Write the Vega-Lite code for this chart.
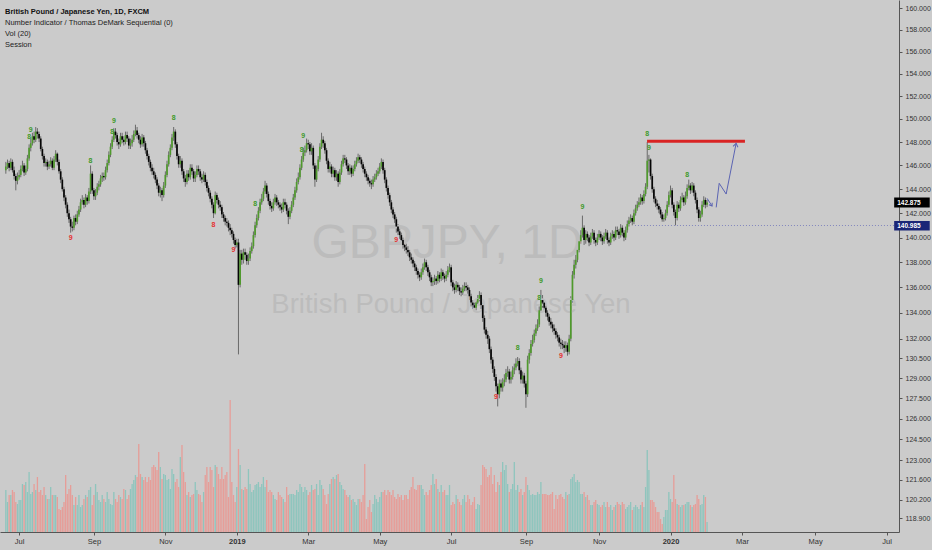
{
  "$schema": "https://vega.github.io/schema/vega-lite/v6.json",
  "description": "GBPJPY daily candles with tick volume, TD sequential counts and drawn levels",
  "width": 899,
  "height": 532,
  "autosize": {"type": "none"},
  "padding": {"left": 0, "top": 0, "right": 33, "bottom": 18},
  "background": "#cbcbcb",
  "config": {"view": {"stroke": null}, "font": "Liberation Sans"},
  "title": {
    "text": "British Pound / Japanese Yen, 1D, FXCM",
    "subtitle": ["Number Indicator / Thomas DeMark Sequential (0)", "Vol (20)", "Session"],
    "anchor": "start",
    "frame": "group",
    "orient": "top",
    "offset": -48,
    "dx": 5,
    "font": "Liberation Sans Narrow, Liberation Sans, sans-serif",
    "fontSize": 7.5,
    "fontWeight": "bold",
    "color": "#111111",
    "subtitleFont": "Liberation Sans Narrow, Liberation Sans, sans-serif",
    "subtitleFontSize": 7.5,
    "subtitleColor": "#222222",
    "subtitlePadding": 3,
    "subtitleLineHeight": 11
  },
  "datasets": {
    "candles": [
      {"i":0,"o":145.6,"h":146.3,"l":145.3,"c":145.9,"v":42},
      {"i":1,"o":145.9,"h":146.5,"l":145.7,"c":146.2,"v":30},
      {"i":2,"o":146.2,"h":146.4,"l":145.5,"c":145.8,"v":37},
      {"i":3,"o":145.8,"h":146.6,"l":145.6,"c":146.3,"v":37},
      {"i":4,"o":146.3,"h":146.5,"l":145.4,"c":145.6,"v":42},
      {"i":5,"o":145.6,"h":145.9,"l":144.8,"c":145.1,"v":40},
      {"i":6,"o":145.1,"h":145.3,"l":143.9,"c":144.7,"v":30},
      {"i":7,"o":144.7,"h":145.4,"l":144.4,"c":145.0,"v":28},
      {"i":8,"o":145.0,"h":145.6,"l":144.8,"c":145.2,"v":32},
      {"i":9,"o":145.2,"h":146.0,"l":145.0,"c":145.7,"v":32},
      {"i":10,"o":145.7,"h":146.4,"l":145.5,"c":146.0,"v":48},
      {"i":11,"o":146.0,"h":146.2,"l":145.1,"c":145.4,"v":47},
      {"i":12,"o":145.4,"h":146.0,"l":145.2,"c":145.7,"v":50},
      {"i":13,"o":145.7,"h":146.9,"l":145.5,"c":146.6,"v":40},
      {"i":14,"o":146.6,"h":147.8,"l":146.4,"c":147.5,"v":60},
      {"i":15,"o":147.5,"h":148.3,"l":147.2,"c":147.9,"v":38},
      {"i":16,"o":147.9,"h":148.8,"l":147.7,"c":148.5,"v":40},
      {"i":17,"o":148.5,"h":148.9,"l":147.9,"c":148.2,"v":48},
      {"i":18,"o":148.2,"h":149.3,"l":148.0,"c":148.9,"v":42},
      {"i":19,"o":148.9,"h":149.2,"l":148.3,"c":148.7,"v":55},
      {"i":20,"o":148.7,"h":148.9,"l":148.0,"c":148.3,"v":40},
      {"i":21,"o":148.3,"h":148.5,"l":147.2,"c":147.4,"v":42},
      {"i":22,"o":147.4,"h":147.6,"l":146.5,"c":146.8,"v":37},
      {"i":23,"o":146.8,"h":147.0,"l":145.9,"c":146.2,"v":45},
      {"i":24,"o":146.2,"h":146.6,"l":145.9,"c":146.3,"v":37},
      {"i":25,"o":146.3,"h":146.5,"l":145.6,"c":145.9,"v":33},
      {"i":26,"o":145.9,"h":146.4,"l":145.7,"c":146.1,"v":33},
      {"i":27,"o":146.1,"h":146.7,"l":145.9,"c":146.4,"v":45},
      {"i":28,"o":146.4,"h":146.6,"l":145.6,"c":145.8,"v":37},
      {"i":29,"o":145.8,"h":146.8,"l":145.6,"c":146.5,"v":37},
      {"i":30,"o":146.5,"h":147.3,"l":146.3,"c":147.0,"v":37},
      {"i":31,"o":147.0,"h":147.1,"l":146.0,"c":146.3,"v":35},
      {"i":32,"o":146.3,"h":146.5,"l":145.3,"c":145.5,"v":23},
      {"i":33,"o":145.5,"h":145.7,"l":144.5,"c":144.8,"v":22},
      {"i":34,"o":144.8,"h":145.0,"l":143.8,"c":144.0,"v":25},
      {"i":35,"o":144.0,"h":144.2,"l":143.0,"c":143.3,"v":30},
      {"i":36,"o":143.3,"h":143.5,"l":142.4,"c":142.7,"v":57},
      {"i":37,"o":142.7,"h":142.9,"l":141.7,"c":142.0,"v":38},
      {"i":38,"o":142.0,"h":142.3,"l":141.2,"c":141.5,"v":43},
      {"i":39,"o":141.5,"h":141.7,"l":140.4,"c":140.9,"v":47},
      {"i":40,"o":140.9,"h":141.3,"l":140.5,"c":140.8,"v":37},
      {"i":41,"o":140.8,"h":141.8,"l":140.6,"c":141.6,"v":27},
      {"i":42,"o":141.6,"h":141.9,"l":141.0,"c":141.3,"v":35},
      {"i":43,"o":141.3,"h":142.2,"l":141.1,"c":141.9,"v":27},
      {"i":44,"o":141.9,"h":142.6,"l":141.7,"c":142.3,"v":37},
      {"i":45,"o":142.3,"h":143.2,"l":142.1,"c":142.9,"v":25},
      {"i":46,"o":142.9,"h":143.5,"l":142.7,"c":143.1,"v":27},
      {"i":47,"o":143.1,"h":143.3,"l":142.4,"c":142.7,"v":33},
      {"i":48,"o":142.7,"h":143.6,"l":142.5,"c":143.3,"v":37},
      {"i":49,"o":143.3,"h":143.5,"l":142.7,"c":143.0,"v":35},
      {"i":50,"o":143.0,"h":144.1,"l":142.8,"c":143.8,"v":42},
      {"i":51,"o":143.8,"h":146.0,"l":143.6,"c":145.3,"v":45},
      {"i":52,"o":145.3,"h":145.5,"l":143.6,"c":143.9,"v":27},
      {"i":53,"o":143.9,"h":144.1,"l":143.1,"c":143.4,"v":37},
      {"i":54,"o":143.4,"h":144.0,"l":143.1,"c":143.7,"v":48},
      {"i":55,"o":143.7,"h":144.5,"l":143.5,"c":144.2,"v":40},
      {"i":56,"o":144.2,"h":144.7,"l":143.9,"c":144.4,"v":32},
      {"i":57,"o":144.4,"h":145.2,"l":144.2,"c":144.9,"v":30},
      {"i":58,"o":144.9,"h":145.4,"l":144.6,"c":145.1,"v":37},
      {"i":59,"o":145.1,"h":145.4,"l":144.7,"c":145.0,"v":33},
      {"i":60,"o":145.0,"h":145.9,"l":144.8,"c":145.6,"v":30},
      {"i":61,"o":145.6,"h":146.5,"l":145.4,"c":146.2,"v":40},
      {"i":62,"o":146.2,"h":147.2,"l":146.0,"c":146.9,"v":33},
      {"i":63,"o":146.9,"h":147.9,"l":146.7,"c":147.6,"v":28},
      {"i":64,"o":147.6,"h":148.5,"l":147.4,"c":148.2,"v":27},
      {"i":65,"o":148.2,"h":149.2,"l":148.0,"c":148.9,"v":40},
      {"i":66,"o":148.9,"h":149.2,"l":148.3,"c":148.6,"v":33},
      {"i":67,"o":148.6,"h":148.8,"l":147.7,"c":148.0,"v":30},
      {"i":68,"o":148.0,"h":148.3,"l":147.4,"c":147.8,"v":37},
      {"i":69,"o":147.8,"h":148.8,"l":147.6,"c":148.5,"v":35},
      {"i":70,"o":148.5,"h":148.8,"l":147.9,"c":148.2,"v":33},
      {"i":71,"o":148.2,"h":148.5,"l":147.7,"c":148.0,"v":43},
      {"i":72,"o":148.0,"h":148.9,"l":147.8,"c":148.6,"v":42},
      {"i":73,"o":148.6,"h":148.9,"l":148.0,"c":148.3,"v":33},
      {"i":74,"o":148.3,"h":148.5,"l":147.4,"c":147.7,"v":37},
      {"i":75,"o":147.7,"h":148.3,"l":147.4,"c":147.9,"v":43},
      {"i":76,"o":147.9,"h":148.6,"l":147.6,"c":148.2,"v":48},
      {"i":77,"o":148.2,"h":149.0,"l":148.0,"c":148.7,"v":52},
      {"i":78,"o":148.7,"h":149.5,"l":148.5,"c":149.0,"v":57},
      {"i":79,"o":149.0,"h":149.3,"l":148.3,"c":148.6,"v":55},
      {"i":80,"o":148.6,"h":148.8,"l":147.9,"c":148.2,"v":88},
      {"i":81,"o":148.2,"h":148.5,"l":147.5,"c":147.8,"v":58},
      {"i":82,"o":147.8,"h":148.7,"l":147.6,"c":148.4,"v":55},
      {"i":83,"o":148.4,"h":148.6,"l":147.6,"c":147.9,"v":52},
      {"i":84,"o":147.9,"h":148.1,"l":147.0,"c":147.3,"v":55},
      {"i":85,"o":147.3,"h":147.5,"l":146.5,"c":146.8,"v":50},
      {"i":86,"o":146.8,"h":147.0,"l":146.0,"c":146.3,"v":55},
      {"i":87,"o":146.3,"h":146.5,"l":145.5,"c":145.8,"v":52},
      {"i":88,"o":145.8,"h":146.1,"l":145.2,"c":145.5,"v":65},
      {"i":89,"o":145.5,"h":145.8,"l":144.9,"c":145.2,"v":67},
      {"i":90,"o":145.2,"h":145.4,"l":144.5,"c":144.8,"v":65},
      {"i":91,"o":144.8,"h":145.0,"l":144.0,"c":144.3,"v":62},
      {"i":92,"o":144.3,"h":144.5,"l":143.4,"c":143.7,"v":80},
      {"i":93,"o":143.7,"h":144.2,"l":143.3,"c":143.9,"v":65},
      {"i":94,"o":143.9,"h":144.1,"l":143.0,"c":143.5,"v":53},
      {"i":95,"o":143.5,"h":144.6,"l":143.3,"c":144.3,"v":58},
      {"i":96,"o":144.3,"h":145.5,"l":144.1,"c":145.2,"v":57},
      {"i":97,"o":145.2,"h":146.4,"l":145.0,"c":146.1,"v":52},
      {"i":98,"o":146.1,"h":147.2,"l":145.9,"c":146.9,"v":53},
      {"i":99,"o":146.9,"h":147.8,"l":146.7,"c":147.5,"v":43},
      {"i":100,"o":147.5,"h":148.7,"l":147.3,"c":148.4,"v":63},
      {"i":101,"o":148.4,"h":149.3,"l":148.1,"c":148.9,"v":58},
      {"i":102,"o":148.9,"h":149.1,"l":147.5,"c":147.8,"v":50},
      {"i":103,"o":147.8,"h":148.0,"l":146.5,"c":146.8,"v":53},
      {"i":104,"o":146.8,"h":147.0,"l":145.8,"c":146.1,"v":45},
      {"i":105,"o":146.1,"h":146.8,"l":145.8,"c":146.4,"v":75},
      {"i":106,"o":146.4,"h":146.6,"l":145.2,"c":145.5,"v":87},
      {"i":107,"o":145.5,"h":145.7,"l":144.6,"c":144.9,"v":60},
      {"i":108,"o":144.9,"h":145.2,"l":144.2,"c":144.6,"v":50},
      {"i":109,"o":144.6,"h":145.6,"l":144.4,"c":145.3,"v":37},
      {"i":110,"o":145.3,"h":145.6,"l":144.7,"c":145.0,"v":40},
      {"i":111,"o":145.0,"h":146.1,"l":144.8,"c":145.8,"v":35},
      {"i":112,"o":145.8,"h":146.1,"l":145.2,"c":145.5,"v":37},
      {"i":113,"o":145.5,"h":145.7,"l":144.6,"c":144.9,"v":38},
      {"i":114,"o":144.9,"h":145.5,"l":144.6,"c":145.2,"v":50},
      {"i":115,"o":145.2,"h":146.0,"l":145.0,"c":145.7,"v":42},
      {"i":116,"o":145.7,"h":146.0,"l":145.2,"c":145.5,"v":38},
      {"i":117,"o":145.5,"h":145.7,"l":144.7,"c":145.0,"v":37},
      {"i":118,"o":145.0,"h":145.3,"l":144.5,"c":144.8,"v":30},
      {"i":119,"o":144.8,"h":145.5,"l":144.6,"c":145.2,"v":40},
      {"i":120,"o":145.2,"h":145.4,"l":144.3,"c":144.6,"v":57},
      {"i":121,"o":144.6,"h":144.8,"l":143.8,"c":144.1,"v":65},
      {"i":122,"o":144.1,"h":144.3,"l":143.4,"c":143.7,"v":50},
      {"i":123,"o":143.7,"h":143.9,"l":142.9,"c":143.2,"v":65},
      {"i":124,"o":143.2,"h":143.4,"l":142.4,"c":142.7,"v":62},
      {"i":125,"o":142.7,"h":142.9,"l":141.6,"c":142.0,"v":45},
      {"i":126,"o":142.0,"h":143.8,"l":141.9,"c":143.5,"v":67},
      {"i":127,"o":143.5,"h":143.7,"l":142.8,"c":143.1,"v":65},
      {"i":128,"o":143.1,"h":143.3,"l":142.4,"c":142.7,"v":58},
      {"i":129,"o":142.7,"h":143.0,"l":142.2,"c":142.5,"v":53},
      {"i":130,"o":142.5,"h":142.7,"l":141.6,"c":141.9,"v":65},
      {"i":131,"o":141.9,"h":142.1,"l":141.3,"c":141.6,"v":53},
      {"i":132,"o":141.6,"h":141.8,"l":141.0,"c":141.3,"v":57},
      {"i":133,"o":141.3,"h":141.6,"l":140.9,"c":141.2,"v":60},
      {"i":134,"o":141.2,"h":141.4,"l":140.5,"c":140.8,"v":35},
      {"i":135,"o":140.8,"h":141.1,"l":140.2,"c":140.6,"v":132},
      {"i":136,"o":140.6,"h":140.8,"l":140.0,"c":140.3,"v":50},
      {"i":137,"o":140.3,"h":140.5,"l":139.5,"c":139.8,"v":37},
      {"i":138,"o":139.8,"h":140.0,"l":139.1,"c":139.4,"v":30},
      {"i":139,"o":139.4,"h":139.9,"l":139.2,"c":139.6,"v":45},
      {"i":140,"o":139.6,"h":139.9,"l":130.8,"c":136.2,"v":83},
      {"i":141,"o":136.2,"h":139.0,"l":136.0,"c":138.7,"v":67},
      {"i":142,"o":138.7,"h":139.0,"l":137.8,"c":138.2,"v":43},
      {"i":143,"o":138.2,"h":139.1,"l":137.9,"c":138.8,"v":42},
      {"i":144,"o":138.8,"h":139.1,"l":138.2,"c":138.6,"v":45},
      {"i":145,"o":138.6,"h":138.8,"l":137.8,"c":138.1,"v":43},
      {"i":146,"o":138.1,"h":138.7,"l":137.8,"c":138.3,"v":63},
      {"i":147,"o":138.3,"h":139.2,"l":138.1,"c":138.9,"v":48},
      {"i":148,"o":138.9,"h":139.6,"l":138.7,"c":139.3,"v":40},
      {"i":149,"o":139.3,"h":140.5,"l":139.1,"c":140.2,"v":42},
      {"i":150,"o":140.2,"h":141.3,"l":140.0,"c":141.0,"v":47},
      {"i":151,"o":141.0,"h":141.9,"l":140.8,"c":141.6,"v":48},
      {"i":152,"o":141.6,"h":142.5,"l":141.4,"c":142.2,"v":50},
      {"i":153,"o":142.2,"h":143.2,"l":142.0,"c":142.9,"v":45},
      {"i":154,"o":142.9,"h":143.6,"l":142.7,"c":143.2,"v":48},
      {"i":155,"o":143.2,"h":144.1,"l":143.0,"c":143.8,"v":55},
      {"i":156,"o":143.8,"h":144.7,"l":143.6,"c":144.3,"v":45},
      {"i":157,"o":144.3,"h":144.5,"l":143.3,"c":143.6,"v":52},
      {"i":158,"o":143.6,"h":143.8,"l":142.7,"c":143.0,"v":40},
      {"i":159,"o":143.0,"h":143.2,"l":142.3,"c":142.6,"v":42},
      {"i":160,"o":142.6,"h":142.9,"l":142.1,"c":142.4,"v":40},
      {"i":161,"o":142.4,"h":143.2,"l":142.2,"c":142.9,"v":37},
      {"i":162,"o":142.9,"h":143.6,"l":142.7,"c":143.3,"v":33},
      {"i":163,"o":143.3,"h":143.5,"l":142.6,"c":142.9,"v":32},
      {"i":164,"o":142.9,"h":143.1,"l":142.4,"c":142.7,"v":40},
      {"i":165,"o":142.7,"h":142.9,"l":142.2,"c":142.5,"v":37},
      {"i":166,"o":142.5,"h":142.8,"l":142.0,"c":142.3,"v":35},
      {"i":167,"o":142.3,"h":143.2,"l":142.1,"c":142.9,"v":33},
      {"i":168,"o":142.9,"h":143.2,"l":142.4,"c":142.7,"v":30},
      {"i":169,"o":142.7,"h":142.9,"l":141.9,"c":142.2,"v":45},
      {"i":170,"o":142.2,"h":142.4,"l":141.1,"c":141.7,"v":37},
      {"i":171,"o":141.7,"h":142.5,"l":141.5,"c":142.2,"v":38},
      {"i":172,"o":142.2,"h":143.0,"l":142.0,"c":142.7,"v":38},
      {"i":173,"o":142.7,"h":143.6,"l":142.5,"c":143.3,"v":38},
      {"i":174,"o":143.3,"h":144.2,"l":143.1,"c":143.9,"v":37},
      {"i":175,"o":143.9,"h":144.9,"l":143.7,"c":144.6,"v":42},
      {"i":176,"o":144.6,"h":145.4,"l":144.4,"c":145.0,"v":40},
      {"i":177,"o":145.0,"h":146.1,"l":144.8,"c":145.8,"v":48},
      {"i":178,"o":145.8,"h":146.8,"l":145.6,"c":146.5,"v":45},
      {"i":179,"o":146.5,"h":147.5,"l":146.3,"c":147.1,"v":40},
      {"i":180,"o":147.1,"h":147.7,"l":146.8,"c":147.3,"v":45},
      {"i":181,"o":147.3,"h":148.3,"l":147.1,"c":147.9,"v":42},
      {"i":182,"o":147.9,"h":148.2,"l":147.4,"c":147.8,"v":37},
      {"i":183,"o":147.8,"h":148.0,"l":146.9,"c":147.2,"v":40},
      {"i":184,"o":147.2,"h":147.9,"l":146.9,"c":147.5,"v":47},
      {"i":185,"o":147.5,"h":147.7,"l":145.7,"c":146.0,"v":42},
      {"i":186,"o":146.0,"h":146.2,"l":144.2,"c":144.8,"v":43},
      {"i":187,"o":144.8,"h":146.0,"l":144.6,"c":145.7,"v":48},
      {"i":188,"o":145.7,"h":146.8,"l":145.5,"c":146.5,"v":37},
      {"i":189,"o":146.5,"h":147.9,"l":146.3,"c":147.6,"v":52},
      {"i":190,"o":147.6,"h":148.8,"l":147.4,"c":148.2,"v":47},
      {"i":191,"o":148.2,"h":148.5,"l":147.5,"c":147.9,"v":43},
      {"i":192,"o":147.9,"h":148.1,"l":147.0,"c":147.3,"v":37},
      {"i":193,"o":147.3,"h":147.5,"l":146.1,"c":146.4,"v":28},
      {"i":194,"o":146.4,"h":146.6,"l":145.4,"c":145.7,"v":38},
      {"i":195,"o":145.7,"h":146.3,"l":145.4,"c":145.9,"v":48},
      {"i":196,"o":145.9,"h":146.1,"l":145.0,"c":145.3,"v":53},
      {"i":197,"o":145.3,"h":145.9,"l":145.0,"c":145.6,"v":55},
      {"i":198,"o":145.6,"h":145.8,"l":144.7,"c":145.0,"v":53},
      {"i":199,"o":145.0,"h":145.6,"l":144.7,"c":145.3,"v":57},
      {"i":200,"o":145.3,"h":145.5,"l":144.2,"c":144.6,"v":58},
      {"i":201,"o":144.6,"h":145.7,"l":144.4,"c":145.4,"v":50},
      {"i":202,"o":145.4,"h":146.4,"l":145.2,"c":146.1,"v":47},
      {"i":203,"o":146.1,"h":146.9,"l":145.9,"c":146.6,"v":43},
      {"i":204,"o":146.6,"h":146.9,"l":146.2,"c":146.5,"v":42},
      {"i":205,"o":146.5,"h":146.7,"l":145.7,"c":146.0,"v":37},
      {"i":206,"o":146.0,"h":146.2,"l":145.2,"c":145.5,"v":35},
      {"i":207,"o":145.5,"h":146.1,"l":145.2,"c":145.8,"v":37},
      {"i":208,"o":145.8,"h":146.0,"l":145.0,"c":145.3,"v":32},
      {"i":209,"o":145.3,"h":146.0,"l":145.1,"c":145.7,"v":33},
      {"i":210,"o":145.7,"h":146.4,"l":145.5,"c":146.1,"v":30},
      {"i":211,"o":146.1,"h":146.7,"l":145.9,"c":146.4,"v":27},
      {"i":212,"o":146.4,"h":147.0,"l":146.2,"c":146.7,"v":33},
      {"i":213,"o":146.7,"h":146.9,"l":146.2,"c":146.5,"v":33},
      {"i":214,"o":146.5,"h":146.7,"l":145.8,"c":146.1,"v":30},
      {"i":215,"o":146.1,"h":146.3,"l":145.4,"c":145.7,"v":37},
      {"i":216,"o":145.7,"h":145.9,"l":145.0,"c":145.3,"v":68},
      {"i":217,"o":145.3,"h":145.5,"l":144.7,"c":145.0,"v":13},
      {"i":218,"o":145.0,"h":145.2,"l":144.4,"c":144.7,"v":25},
      {"i":219,"o":144.7,"h":144.9,"l":144.2,"c":144.5,"v":32},
      {"i":220,"o":144.5,"h":144.8,"l":144.0,"c":144.4,"v":20},
      {"i":221,"o":144.4,"h":145.1,"l":144.2,"c":144.8,"v":28},
      {"i":222,"o":144.8,"h":145.3,"l":144.6,"c":145.0,"v":37},
      {"i":223,"o":145.0,"h":145.6,"l":144.8,"c":145.3,"v":33},
      {"i":224,"o":145.3,"h":145.8,"l":145.1,"c":145.5,"v":30},
      {"i":225,"o":145.5,"h":146.2,"l":145.3,"c":145.9,"v":35},
      {"i":226,"o":145.9,"h":146.6,"l":145.7,"c":146.3,"v":40},
      {"i":227,"o":146.3,"h":146.5,"l":145.3,"c":145.6,"v":40},
      {"i":228,"o":145.6,"h":145.8,"l":144.5,"c":144.8,"v":42},
      {"i":229,"o":144.8,"h":145.0,"l":143.8,"c":144.1,"v":37},
      {"i":230,"o":144.1,"h":144.3,"l":143.2,"c":143.5,"v":42},
      {"i":231,"o":143.5,"h":143.7,"l":142.6,"c":142.9,"v":40},
      {"i":232,"o":142.9,"h":143.1,"l":142.0,"c":142.3,"v":37},
      {"i":233,"o":142.3,"h":142.5,"l":141.6,"c":141.9,"v":42},
      {"i":234,"o":141.9,"h":142.1,"l":141.2,"c":141.5,"v":35},
      {"i":235,"o":141.5,"h":141.7,"l":140.4,"c":140.9,"v":33},
      {"i":236,"o":140.9,"h":141.1,"l":140.2,"c":140.5,"v":38},
      {"i":237,"o":140.5,"h":140.8,"l":139.9,"c":140.2,"v":35},
      {"i":238,"o":140.2,"h":140.4,"l":139.5,"c":139.8,"v":37},
      {"i":239,"o":139.8,"h":140.0,"l":139.1,"c":139.4,"v":32},
      {"i":240,"o":139.4,"h":139.7,"l":138.9,"c":139.2,"v":37},
      {"i":241,"o":139.2,"h":139.5,"l":138.7,"c":139.0,"v":37},
      {"i":242,"o":139.0,"h":139.3,"l":138.5,"c":138.8,"v":33},
      {"i":243,"o":138.8,"h":139.0,"l":138.1,"c":138.4,"v":42},
      {"i":244,"o":138.4,"h":138.7,"l":137.9,"c":138.2,"v":45},
      {"i":245,"o":138.2,"h":138.4,"l":137.6,"c":137.9,"v":55},
      {"i":246,"o":137.9,"h":138.1,"l":137.3,"c":137.6,"v":43},
      {"i":247,"o":137.6,"h":137.8,"l":137.0,"c":137.3,"v":42},
      {"i":248,"o":137.3,"h":137.5,"l":136.7,"c":137.0,"v":47},
      {"i":249,"o":137.0,"h":137.2,"l":136.5,"c":136.8,"v":47},
      {"i":250,"o":136.8,"h":137.5,"l":136.6,"c":137.2,"v":47},
      {"i":251,"o":137.2,"h":137.9,"l":137.0,"c":137.6,"v":43},
      {"i":252,"o":137.6,"h":138.3,"l":137.4,"c":138.0,"v":37},
      {"i":253,"o":138.0,"h":138.2,"l":137.3,"c":137.6,"v":40},
      {"i":254,"o":137.6,"h":137.8,"l":136.9,"c":137.2,"v":37},
      {"i":255,"o":137.2,"h":137.4,"l":136.5,"c":136.8,"v":42},
      {"i":256,"o":136.8,"h":137.0,"l":136.1,"c":136.4,"v":47},
      {"i":257,"o":136.4,"h":136.8,"l":136.1,"c":136.5,"v":58},
      {"i":258,"o":136.5,"h":137.0,"l":136.2,"c":136.7,"v":48},
      {"i":259,"o":136.7,"h":136.9,"l":136.2,"c":136.5,"v":53},
      {"i":260,"o":136.5,"h":137.3,"l":136.3,"c":137.0,"v":43},
      {"i":261,"o":137.0,"h":137.2,"l":136.4,"c":136.7,"v":40},
      {"i":262,"o":136.7,"h":137.5,"l":136.5,"c":137.2,"v":47},
      {"i":263,"o":137.2,"h":137.4,"l":136.6,"c":136.9,"v":40},
      {"i":264,"o":136.9,"h":137.1,"l":136.4,"c":136.7,"v":42},
      {"i":265,"o":136.7,"h":137.3,"l":136.5,"c":137.0,"v":37},
      {"i":266,"o":137.0,"h":137.7,"l":136.8,"c":137.4,"v":37},
      {"i":267,"o":137.4,"h":137.9,"l":137.2,"c":137.6,"v":47},
      {"i":268,"o":137.6,"h":137.8,"l":136.1,"c":136.4,"v":27},
      {"i":269,"o":136.4,"h":136.6,"l":135.7,"c":136.0,"v":30},
      {"i":270,"o":136.0,"h":136.3,"l":135.5,"c":135.8,"v":28},
      {"i":271,"o":135.8,"h":136.5,"l":135.6,"c":136.2,"v":37},
      {"i":272,"o":136.2,"h":136.4,"l":135.7,"c":136.0,"v":33},
      {"i":273,"o":136.0,"h":136.2,"l":135.4,"c":135.7,"v":30},
      {"i":274,"o":135.7,"h":136.0,"l":135.3,"c":135.6,"v":27},
      {"i":275,"o":135.6,"h":136.2,"l":135.4,"c":135.9,"v":33},
      {"i":276,"o":135.9,"h":136.4,"l":135.7,"c":136.1,"v":37},
      {"i":277,"o":136.1,"h":136.4,"l":135.7,"c":136.0,"v":30},
      {"i":278,"o":136.0,"h":136.2,"l":135.5,"c":135.8,"v":37},
      {"i":279,"o":135.8,"h":136.0,"l":135.0,"c":135.3,"v":33},
      {"i":280,"o":135.3,"h":135.5,"l":134.5,"c":134.8,"v":27},
      {"i":281,"o":134.8,"h":135.0,"l":134.3,"c":134.6,"v":30},
      {"i":282,"o":134.6,"h":134.8,"l":134.1,"c":134.4,"v":35},
      {"i":283,"o":134.4,"h":135.1,"l":134.2,"c":134.8,"v":23},
      {"i":284,"o":134.8,"h":135.4,"l":134.6,"c":135.1,"v":28},
      {"i":285,"o":135.1,"h":135.7,"l":134.9,"c":135.4,"v":27},
      {"i":286,"o":135.4,"h":135.6,"l":134.3,"c":134.6,"v":47},
      {"i":287,"o":134.6,"h":134.8,"l":133.3,"c":133.6,"v":67},
      {"i":288,"o":133.6,"h":133.8,"l":132.4,"c":132.7,"v":65},
      {"i":289,"o":132.7,"h":132.9,"l":132.0,"c":132.3,"v":63},
      {"i":290,"o":132.3,"h":132.6,"l":131.6,"c":132.0,"v":55},
      {"i":291,"o":132.0,"h":132.2,"l":130.9,"c":131.2,"v":57},
      {"i":292,"o":131.2,"h":131.4,"l":130.1,"c":130.4,"v":65},
      {"i":293,"o":130.4,"h":130.6,"l":129.4,"c":129.7,"v":48},
      {"i":294,"o":129.7,"h":129.9,"l":128.8,"c":129.1,"v":57},
      {"i":295,"o":129.1,"h":129.3,"l":128.0,"c":128.4,"v":40},
      {"i":296,"o":128.4,"h":128.6,"l":126.9,"c":127.8,"v":50},
      {"i":297,"o":127.8,"h":128.9,"l":127.5,"c":128.6,"v":47},
      {"i":298,"o":128.6,"h":128.9,"l":128.0,"c":128.3,"v":60},
      {"i":299,"o":128.3,"h":129.0,"l":128.0,"c":128.7,"v":70},
      {"i":300,"o":128.7,"h":129.3,"l":128.4,"c":128.9,"v":62},
      {"i":301,"o":128.9,"h":129.7,"l":128.7,"c":129.4,"v":67},
      {"i":302,"o":129.4,"h":129.9,"l":129.1,"c":129.5,"v":48},
      {"i":303,"o":129.5,"h":129.7,"l":128.6,"c":128.9,"v":40},
      {"i":304,"o":128.9,"h":129.5,"l":128.6,"c":129.1,"v":43},
      {"i":305,"o":129.1,"h":129.9,"l":128.9,"c":129.6,"v":48},
      {"i":306,"o":129.6,"h":130.1,"l":129.3,"c":129.8,"v":70},
      {"i":307,"o":129.8,"h":130.5,"l":129.6,"c":130.1,"v":42},
      {"i":308,"o":130.1,"h":130.6,"l":129.9,"c":130.3,"v":47},
      {"i":309,"o":130.3,"h":130.5,"l":129.3,"c":129.6,"v":40},
      {"i":310,"o":129.6,"h":129.8,"l":128.6,"c":128.9,"v":43},
      {"i":311,"o":128.9,"h":129.5,"l":128.6,"c":129.2,"v":37},
      {"i":312,"o":129.2,"h":129.4,"l":128.3,"c":128.6,"v":40},
      {"i":313,"o":128.6,"h":128.8,"l":126.8,"c":127.8,"v":55},
      {"i":314,"o":127.8,"h":130.7,"l":127.6,"c":130.4,"v":47},
      {"i":315,"o":130.4,"h":131.2,"l":130.1,"c":130.9,"v":42},
      {"i":316,"o":130.9,"h":131.9,"l":130.7,"c":131.6,"v":37},
      {"i":317,"o":131.6,"h":132.3,"l":131.4,"c":131.9,"v":38},
      {"i":318,"o":131.9,"h":132.7,"l":131.7,"c":132.4,"v":37},
      {"i":319,"o":132.4,"h":133.1,"l":132.2,"c":132.8,"v":37},
      {"i":320,"o":132.8,"h":133.5,"l":132.6,"c":133.1,"v":40},
      {"i":321,"o":133.1,"h":134.5,"l":132.9,"c":134.2,"v":38},
      {"i":322,"o":134.2,"h":135.8,"l":134.0,"c":135.0,"v":50},
      {"i":323,"o":135.0,"h":135.4,"l":134.4,"c":134.8,"v":38},
      {"i":324,"o":134.8,"h":135.0,"l":134.1,"c":134.4,"v":38},
      {"i":325,"o":134.4,"h":134.6,"l":133.7,"c":134.0,"v":38},
      {"i":326,"o":134.0,"h":134.2,"l":133.4,"c":133.7,"v":37},
      {"i":327,"o":133.7,"h":133.9,"l":133.0,"c":133.3,"v":37},
      {"i":328,"o":133.3,"h":133.6,"l":132.8,"c":133.1,"v":38},
      {"i":329,"o":133.1,"h":133.3,"l":132.5,"c":132.8,"v":40},
      {"i":330,"o":132.8,"h":133.1,"l":132.3,"c":132.6,"v":23},
      {"i":331,"o":132.6,"h":132.8,"l":132.0,"c":132.3,"v":37},
      {"i":332,"o":132.3,"h":132.5,"l":131.8,"c":132.1,"v":33},
      {"i":333,"o":132.1,"h":132.3,"l":131.4,"c":131.7,"v":37},
      {"i":334,"o":131.7,"h":132.0,"l":131.2,"c":131.6,"v":38},
      {"i":335,"o":131.6,"h":131.9,"l":131.2,"c":131.5,"v":35},
      {"i":336,"o":131.5,"h":131.8,"l":130.9,"c":131.3,"v":33},
      {"i":337,"o":131.3,"h":131.8,"l":131.0,"c":131.5,"v":40},
      {"i":338,"o":131.5,"h":131.7,"l":130.7,"c":131.0,"v":37},
      {"i":339,"o":131.0,"h":132.3,"l":130.8,"c":132.0,"v":38},
      {"i":340,"o":132.0,"h":135.3,"l":131.8,"c":135.0,"v":53},
      {"i":341,"o":135.0,"h":137.3,"l":134.8,"c":137.0,"v":55},
      {"i":342,"o":137.0,"h":138.2,"l":136.7,"c":137.8,"v":58},
      {"i":343,"o":137.8,"h":138.6,"l":137.5,"c":138.2,"v":50},
      {"i":344,"o":138.2,"h":139.3,"l":138.0,"c":139.0,"v":52},
      {"i":345,"o":139.0,"h":140.0,"l":138.8,"c":139.7,"v":50},
      {"i":346,"o":139.7,"h":140.6,"l":139.5,"c":140.2,"v":38},
      {"i":347,"o":140.2,"h":141.8,"l":140.0,"c":140.8,"v":38},
      {"i":348,"o":140.8,"h":141.0,"l":139.4,"c":139.8,"v":40},
      {"i":349,"o":139.8,"h":140.6,"l":139.5,"c":140.3,"v":35},
      {"i":350,"o":140.3,"h":140.5,"l":139.7,"c":140.0,"v":37},
      {"i":351,"o":140.0,"h":140.2,"l":139.3,"c":139.6,"v":32},
      {"i":352,"o":139.6,"h":140.4,"l":139.4,"c":140.1,"v":27},
      {"i":353,"o":140.1,"h":140.7,"l":139.9,"c":140.4,"v":27},
      {"i":354,"o":140.4,"h":140.6,"l":139.5,"c":139.8,"v":30},
      {"i":355,"o":139.8,"h":140.0,"l":139.3,"c":139.6,"v":32},
      {"i":356,"o":139.6,"h":140.3,"l":139.4,"c":140.0,"v":28},
      {"i":357,"o":140.0,"h":140.6,"l":139.8,"c":140.3,"v":27},
      {"i":358,"o":140.3,"h":140.5,"l":139.7,"c":140.0,"v":25},
      {"i":359,"o":140.0,"h":140.2,"l":139.4,"c":139.7,"v":27},
      {"i":360,"o":139.7,"h":140.4,"l":139.5,"c":140.1,"v":30},
      {"i":361,"o":140.1,"h":140.7,"l":139.9,"c":140.4,"v":25},
      {"i":362,"o":140.4,"h":140.6,"l":139.5,"c":139.8,"v":30},
      {"i":363,"o":139.8,"h":140.0,"l":139.3,"c":139.6,"v":25},
      {"i":364,"o":139.6,"h":140.4,"l":139.4,"c":140.1,"v":27},
      {"i":365,"o":140.1,"h":140.6,"l":139.9,"c":140.3,"v":22},
      {"i":366,"o":140.3,"h":140.5,"l":139.7,"c":140.0,"v":25},
      {"i":367,"o":140.0,"h":140.9,"l":139.8,"c":140.6,"v":27},
      {"i":368,"o":140.6,"h":140.9,"l":140.2,"c":140.5,"v":30},
      {"i":369,"o":140.5,"h":140.7,"l":139.9,"c":140.2,"v":28},
      {"i":370,"o":140.2,"h":141.1,"l":140.0,"c":140.8,"v":27},
      {"i":371,"o":140.8,"h":141.0,"l":140.1,"c":140.4,"v":30},
      {"i":372,"o":140.4,"h":140.6,"l":139.7,"c":140.0,"v":28},
      {"i":373,"o":140.0,"h":140.9,"l":139.8,"c":140.6,"v":23},
      {"i":374,"o":140.6,"h":141.4,"l":140.4,"c":141.1,"v":25},
      {"i":375,"o":141.1,"h":141.7,"l":140.9,"c":141.4,"v":27},
      {"i":376,"o":141.4,"h":141.9,"l":141.2,"c":141.6,"v":30},
      {"i":377,"o":141.6,"h":141.8,"l":141.0,"c":141.3,"v":22},
      {"i":378,"o":141.3,"h":142.3,"l":141.1,"c":142.0,"v":25},
      {"i":379,"o":142.0,"h":142.7,"l":141.8,"c":142.4,"v":27},
      {"i":380,"o":142.4,"h":143.0,"l":142.2,"c":142.7,"v":25},
      {"i":381,"o":142.7,"h":143.3,"l":142.5,"c":142.9,"v":23},
      {"i":382,"o":142.9,"h":143.6,"l":142.7,"c":143.3,"v":27},
      {"i":383,"o":143.3,"h":143.5,"l":142.7,"c":143.0,"v":30},
      {"i":384,"o":143.0,"h":143.9,"l":142.8,"c":143.6,"v":25},
      {"i":385,"o":143.6,"h":144.5,"l":143.4,"c":144.2,"v":45},
      {"i":386,"o":144.2,"h":148.0,"l":144.0,"c":146.4,"v":82},
      {"i":387,"o":146.4,"h":146.9,"l":145.4,"c":146.5,"v":62},
      {"i":388,"o":146.5,"h":146.6,"l":144.8,"c":145.1,"v":32},
      {"i":389,"o":145.1,"h":145.3,"l":143.7,"c":144.0,"v":32},
      {"i":390,"o":144.0,"h":144.2,"l":142.9,"c":143.2,"v":30},
      {"i":391,"o":143.2,"h":143.4,"l":142.5,"c":142.8,"v":25},
      {"i":392,"o":142.8,"h":143.1,"l":142.3,"c":142.6,"v":20},
      {"i":393,"o":142.6,"h":142.8,"l":142.0,"c":142.3,"v":20},
      {"i":394,"o":142.3,"h":142.5,"l":141.6,"c":141.9,"v":13},
      {"i":395,"o":141.9,"h":142.1,"l":141.3,"c":141.5,"v":8},
      {"i":396,"o":141.5,"h":141.9,"l":141.3,"c":141.6,"v":15},
      {"i":397,"o":141.6,"h":142.3,"l":141.4,"c":142.0,"v":22},
      {"i":398,"o":142.0,"h":143.0,"l":141.8,"c":142.7,"v":22},
      {"i":399,"o":142.7,"h":143.8,"l":142.5,"c":143.5,"v":40},
      {"i":400,"o":143.5,"h":144.3,"l":143.3,"c":143.9,"v":33},
      {"i":401,"o":143.9,"h":144.1,"l":142.4,"c":142.7,"v":30},
      {"i":402,"o":142.7,"h":142.9,"l":141.8,"c":142.1,"v":57},
      {"i":403,"o":142.1,"h":142.3,"l":141.0,"c":141.6,"v":33},
      {"i":404,"o":141.6,"h":143.0,"l":141.4,"c":142.7,"v":28},
      {"i":405,"o":142.7,"h":142.9,"l":142.1,"c":142.4,"v":27},
      {"i":406,"o":142.4,"h":143.4,"l":142.2,"c":143.1,"v":25},
      {"i":407,"o":143.1,"h":143.7,"l":142.9,"c":143.3,"v":27},
      {"i":408,"o":143.3,"h":143.5,"l":142.6,"c":142.9,"v":27},
      {"i":409,"o":142.9,"h":143.8,"l":142.7,"c":143.4,"v":28},
      {"i":410,"o":143.4,"h":144.4,"l":143.2,"c":144.1,"v":30},
      {"i":411,"o":144.1,"h":144.8,"l":143.9,"c":144.3,"v":30},
      {"i":412,"o":144.3,"h":144.5,"l":143.6,"c":143.9,"v":27},
      {"i":413,"o":143.9,"h":144.6,"l":143.7,"c":144.3,"v":25},
      {"i":414,"o":144.3,"h":144.5,"l":143.4,"c":143.7,"v":27},
      {"i":415,"o":143.7,"h":143.9,"l":142.8,"c":143.1,"v":28},
      {"i":416,"o":143.1,"h":143.3,"l":142.0,"c":142.3,"v":37},
      {"i":417,"o":142.3,"h":142.5,"l":141.3,"c":141.6,"v":33},
      {"i":418,"o":141.6,"h":142.2,"l":141.3,"c":141.9,"v":27},
      {"i":419,"o":141.9,"h":143.0,"l":141.7,"c":142.7,"v":28},
      {"i":420,"o":142.7,"h":143.4,"l":142.5,"c":143.1,"v":37},
      {"i":421,"o":143.1,"h":143.3,"l":142.4,"c":142.7,"v":35},
      {"i":422,"o":142.7,"h":143.1,"l":142.5,"c":142.875,"v":10}
    ],
    "td": [
      {"i":14,"p":148.4,"t":"8","s":"up"},
      {"i":15,"p":149.0,"t":"9","s":"up"},
      {"i":51,"p":146.4,"t":"8","s":"up"},
      {"i":64,"p":148.9,"t":"8","s":"up"},
      {"i":65,"p":149.8,"t":"9","s":"up"},
      {"i":101,"p":150.1,"t":"8","s":"up"},
      {"i":150,"p":142.8,"t":"8","s":"up"},
      {"i":178,"p":147.3,"t":"8","s":"up"},
      {"i":179,"p":148.5,"t":"9","s":"up"},
      {"i":308,"p":131.3,"t":"8","s":"up"},
      {"i":321,"p":135.2,"t":"8","s":"up"},
      {"i":322,"p":136.5,"t":"9","s":"up"},
      {"i":347,"p":142.5,"t":"9","s":"up"},
      {"i":386,"p":148.7,"t":"8","s":"up"},
      {"i":387,"p":147.5,"t":"9","s":"up"},
      {"i":410,"p":145.2,"t":"8","s":"up"},
      {"i":39,"p":140.0,"t":"9","s":"down"},
      {"i":125,"p":141.0,"t":"8","s":"down"},
      {"i":137,"p":139.0,"t":"9","s":"down"},
      {"i":235,"p":139.8,"t":"9","s":"down"},
      {"i":295,"p":127.6,"t":"9","s":"down"},
      {"i":334,"p":130.7,"t":"9","s":"down"}
    ],
    "path": [
      {"g":1,"k":0,"i":422.0,"p":143.23},
      {"g":1,"k":1,"i":425.0,"p":142.59},
      {"g":2,"k":0,"i":427.5,"p":142.48},
      {"g":2,"k":1,"i":429.3,"p":144.49},
      {"g":2,"k":2,"i":433.5,"p":143.59},
      {"g":2,"k":3,"i":439.5,"p":147.89}
    ],
    "tags": [
      {"i":534.6,"i2":556,"p":142.875,"lo":142.47,"hi":143.3},
      {"i":534.6,"i2":556,"p":140.985,"lo":140.57,"hi":141.35}
    ]
  },
  "encoding": {
    "x": {
      "field": "i",
      "type": "quantitative",
      "scale": {"domain": [-0.5, 534.5], "nice": false, "zero": false},
      "axis": {
        "orient": "bottom",
        "title": null,
        "grid": false,
        "values": [8, 53, 96, 139, 182, 225, 268, 313, 357, 400, 443, 487, 530],
        "labelExpr": "['Jul','Sep','Nov','2019','Mar','May','Jul','Sep','Nov','2020','Mar','May','Jul'][indexof([8,53,96,139,182,225,268,313,357,400,443,487,530], datum.value)]",
        "labelFont": "Liberation Sans",
        "labelFontSize": 7.5,
        "labelColor": "#333333",
        "labelFontWeight": {"condition": {"test": "datum.value == 139 || datum.value == 400", "value": "bold"}, "value": "normal"},
        "labelOverlap": false,
        "labelPadding": 2,
        "tickSize": 3,
        "tickColor": "#555555",
        "domainColor": "#555555"
      }
    }
  },
  "resolve": {"scale": {"y": "independent"}},
  "layer": [
    {
      "data": {"name": "candles"},
      "mark": {"type": "bar", "size": 1.3},
      "encoding": {
        "y": {"field": "v", "type": "quantitative", "scale": {"domain": [0, 532]}, "axis": null},
        "color": {"condition": {"test": "datum.c >= datum.o", "value": "#8ec5bd"}, "value": "#e69d98"}
      }
    },
    {
      "data": {"name": "candles"},
      "layer": [
        {
          "mark": {"type": "rule", "color": "#6a6a6a", "strokeWidth": 1},
          "encoding": {
            "y": {
              "field": "l",
              "type": "quantitative",
              "scale": {"type": "log", "domain": [117.96, 160.75], "nice": false},
              "axis": {
                "orient": "right",
                "title": null,
                "grid": false,
                "values": [118.9, 120.2, 121.6, 123, 124.5, 126, 127.5, 129, 130.5, 132, 134, 136, 138, 140, 142, 144, 146, 148, 150, 152, 154, 156, 158, 160],
                "format": ".3f",
                "labelFont": "Liberation Sans",
                "labelFontSize": 7,
                "labelColor": "#333333",
                "labelOverlap": false,
                "labelPadding": 3,
                "tickSize": 3,
                "tickColor": "#555555",
                "domainColor": "#555555"
              }
            },
            "y2": {"field": "h"}
          }
        },
        {
          "data": {"values": [{"i": 265.5, "p": 138.34}]},
          "mark": {"type": "text", "text": "GBPJPY, 1D", "font": "Liberation Sans Narrow, Liberation Sans, sans-serif", "fontSize": 48, "color": "#bcbcbc", "align": "center", "baseline": "alphabetic"},
          "encoding": {"y": {"field": "p", "type": "quantitative"}}
        },
        {
          "data": {"values": [{"i": 267.9, "p": 133.99}]},
          "mark": {"type": "text", "text": "British Pound / Japanese Yen", "font": "Liberation Sans Narrow, Liberation Sans, sans-serif", "fontSize": 27.5, "color": "#bcbcbc", "align": "center", "baseline": "alphabetic"},
          "encoding": {"y": {"field": "p", "type": "quantitative"}}
        },
        {
          "data": {"values": [{"i": 378.6, "i2": 534.5, "p": 140.985}]},
          "mark": {"type": "rule", "color": "#8286bd", "strokeWidth": 1, "strokeDash": [1, 2]},
          "encoding": {"x2": {"field": "i2"}, "y": {"field": "p", "type": "quantitative"}}
        },
        {
          "mark": {"type": "bar", "size": 1.7},
          "encoding": {
            "y": {"field": "o", "type": "quantitative"},
            "y2": {"field": "c"},
            "color": {"condition": {"test": "datum.c >= datum.o", "value": "#4f9a2c"}, "value": "#050505"}
          }
        },
        {
          "data": {"values": [{"i": 385.9, "i2": 444.8, "p": 148.07}]},
          "mark": {"type": "rule", "color": "#d92424", "strokeWidth": 3},
          "encoding": {"x2": {"field": "i2"}, "y": {"field": "p", "type": "quantitative"}}
        },
        {
          "data": {"name": "path"},
          "mark": {"type": "line", "color": "#5b64b3", "strokeWidth": 1},
          "encoding": {
            "y": {"field": "p", "type": "quantitative"},
            "detail": {"field": "g"},
            "order": {"field": "k", "type": "quantitative"}
          }
        },
        {
          "data": {"values": [{"i": 439.5, "p": 147.89}]},
          "mark": {"type": "point", "shape": "M-0.7,1L0,0L0.7,1", "size": 50, "angle": 11, "filled": false, "color": "#5b64b3", "strokeWidth": 1, "opacity": 1},
          "encoding": {"y": {"field": "p", "type": "quantitative"}}
        },
        {
          "data": {"values": [{"i": 425.0, "p": 142.59}]},
          "mark": {"type": "point", "shape": "M-0.7,1L0,0L0.7,1", "size": 30, "angle": 148, "filled": false, "color": "#5b64b3", "strokeWidth": 1, "opacity": 1},
          "encoding": {"y": {"field": "p", "type": "quantitative"}}
        },
        {
          "data": {"name": "td"},
          "mark": {"type": "text", "font": "Liberation Sans", "fontSize": 7, "fontWeight": "bold", "baseline": "middle", "align": "center"},
          "encoding": {
            "y": {"field": "p", "type": "quantitative"},
            "text": {"field": "t"},
            "color": {"condition": {"test": "datum.s == 'up'", "value": "#3f9a2a"}, "value": "#e53030"}
          }
        },
        {
          "data": {"name": "tags"},
          "mark": {"type": "rect"},
          "encoding": {
            "x2": {"field": "i2"},
            "y": {"field": "lo", "type": "quantitative"},
            "y2": {"field": "hi"},
            "color": {"condition": {"test": "datum.p > 142", "value": "#000000"}, "value": "#1b2677"}
          }
        },
        {
          "data": {"name": "tags"},
          "mark": {"type": "text", "font": "Liberation Sans", "fontSize": 6.5, "fontWeight": "bold", "align": "left", "baseline": "middle", "dx": 3, "color": "#ffffff"},
          "encoding": {
            "y": {"field": "p", "type": "quantitative"},
            "text": {"field": "p", "format": ".3f"}
          }
        }
      ]
    }
  ]
}
